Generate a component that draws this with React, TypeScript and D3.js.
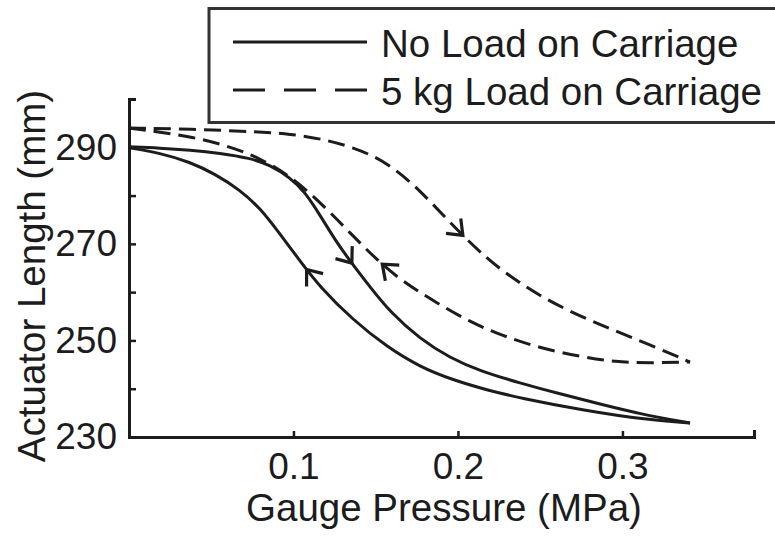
import React, { useEffect, useRef } from "react";
import * as d3 from "d3";

// Axis ticks
const xTickValues = [0.1, 0.2, 0.3];
const yTickValues = [230, 240, 250, 260, 270, 280, 290, 300];
const yTickLabels = [230, 250, 270, 290];

// No load on carriage – inflation (pressure rising)
const noLoadUpP = [0, 0.0188, 0.0371, 0.0553, 0.0736, 0.0857, 0.0979, 0.107, 0.1161, 0.1253, 0.1344, 0.1466, 0.1587, 0.1769, 0.1952, 0.2134, 0.2377, 0.2621, 0.2864, 0.3107, 0.3411];
const noLoadUpL = [290.1, 289.85, 289.43, 288.8, 287.77, 286.33, 283.74, 280.74, 275.97, 270.8, 266.45, 261.06, 255.89, 250.3, 246.36, 243.67, 241.18, 238.91, 236.83, 234.76, 232.9];

// No load on carriage – deflation (pressure falling)
const noLoadDownP = [0, 0.0188, 0.0371, 0.0523, 0.0675, 0.0797, 0.0918, 0.104, 0.1161, 0.1362, 0.1569, 0.1769, 0.197, 0.2177, 0.2377, 0.2754, 0.3156, 0.3411];
const noLoadDownL = [289.9, 288.82, 286.95, 284.47, 281.15, 277.42, 272.04, 266.45, 261.06, 254.23, 248.64, 244.5, 241.8, 239.73, 238.08, 235.59, 233.52, 232.9];

// 5 kg load – inflation
const loadUpP = [0, 0.0371, 0.0797, 0.0979, 0.1161, 0.1362, 0.1569, 0.1769, 0.197, 0.2177, 0.2347, 0.2541, 0.2754, 0.2943, 0.3156, 0.3411];
const loadUpL = [294.0, 293.79, 293.17, 292.76, 291.82, 290.06, 286.95, 281.15, 273.7, 266.86, 262.51, 258.37, 254.85, 252.16, 249.26, 245.53];

// 5 kg load – deflation
const loadDownP = [0, 0.0188, 0.0383, 0.0584, 0.0784, 0.0991, 0.1192, 0.1362, 0.1508, 0.1666, 0.1873, 0.2073, 0.2274, 0.2499, 0.2754, 0.2955, 0.3168, 0.3411];
const loadDownL = [294.0, 293.17, 292.13, 290.47, 287.99, 283.85, 277.63, 271.63, 266.66, 262.1, 257.75, 253.82, 250.92, 248.43, 246.57, 245.53, 245.33, 245.53];

// Arrow positions (pressure) and direction of travel
const arrowPressures = [0.1355, 0.108, 0.203, 0.154];
const arrowDirections = [1, -1, 1, -1];

const legendLabels = ["No Load on Carriage", "5 kg Load on Carriage"];

const INK = "#1c1c1c";
const FONT = "'Liberation Sans', Arial, Helvetica, sans-serif";

export default function App() {
  const ref = useRef<SVGSVGElement | null>(null);

  useEffect(() => {
    const svg = d3.select(ref.current);
    svg.selectAll("*").remove();

    const x = d3.scaleLinear().domain([0, 0.38]).range([129, 754]);
    const y = d3.scaleLinear().domain([230, 300]).range([437, 99]);

    // Axes
    const yAxis = d3
      .axisLeft(y)
      .tickValues(yTickValues)
      .tickSizeInner(-7)
      .tickSizeOuter(-7)
      .tickPadding(12)
      .tickFormat((d: any) => (yTickLabels.includes(+d) ? String(d) : ""));
    const gy = svg.append("g").attr("transform", `translate(${x(0)},0)`).call(yAxis as any);

    const xAxis = d3
      .axisBottom(x)
      .tickValues(xTickValues)
      .tickSizeInner(-6)
      .tickSizeOuter(-7)
      .tickPadding(16)
      .tickFormat((d: any) => d3.format(".1f")(d));
    const gx = svg.append("g").attr("transform", `translate(0,${y(230)})`).call(xAxis as any);

    [gy, gx].forEach((g) => {
      g.select(".domain").attr("stroke", INK).attr("stroke-width", 3);
      g.selectAll(".tick line").attr("stroke", INK).attr("stroke-width", 2.5);
      g.selectAll(".tick text")
        .attr("fill", INK)
        .style("font-family", FONT)
        .style("font-size", "37px");
    });

    // Axis titles
    svg
      .append("text")
      .attr("x", 444)
      .attr("y", 521)
      .attr("text-anchor", "middle")
      .attr("fill", INK)
      .style("font-family", FONT)
      .style("font-size", "38.5px")
      .text("Gauge Pressure (MPa)");

    svg
      .append("text")
      .attr("transform", "translate(45,276) rotate(-90)")
      .attr("text-anchor", "middle")
      .attr("fill", INK)
      .style("font-family", FONT)
      .style("font-size", "38.5px")
      .text("Actuator Length (mm)");

    // Curves
    const series = [
      { p: noLoadUpP, l: noLoadUpL, dash: null },
      { p: noLoadDownP, l: noLoadDownL, dash: null },
      { p: loadUpP, l: loadUpL, dash: "17,8" },
      { p: loadDownP, l: loadDownL, dash: "17,8" },
    ];

    const line = d3
      .line<[number, number]>()
      .x((d) => x(d[0]))
      .y((d) => y(d[1]))
      .curve(d3.curveBasis);

    series.forEach((s, i) => {
      const pts = s.p.map((p, k) => [p, s.l[k]] as [number, number]);
      const path = svg
        .append("path")
        .attr("d", line(pts) as string)
        .attr("fill", "none")
        .attr("stroke", INK)
        .attr("stroke-width", 3)
        .attr("stroke-dasharray", s.dash);

      // arrow head
      const node = path.node() as SVGPathElement;
      const total = node.getTotalLength();
      const tx = x(arrowPressures[i]);
      let lo = 0,
        hi = total;
      for (let it = 0; it < 40; it++) {
        const mid = (lo + hi) / 2;
        if (node.getPointAtLength(mid).x < tx) lo = mid;
        else hi = mid;
      }
      const len = (lo + hi) / 2;
      const tip = node.getPointAtLength(len);
      const a = node.getPointAtLength(Math.max(0, len - 3));
      const b = node.getPointAtLength(Math.min(total, len + 3));
      let dx = (b.x - a.x) * arrowDirections[i];
      let dy = (b.y - a.y) * arrowDirections[i];
      const n = Math.hypot(dx, dy) || 1;
      dx /= n;
      dy /= n;
      const L = 17;
      const th = (38 * Math.PI) / 180;
      const arm = (sgn: number) => {
        const c = Math.cos(sgn * th),
          sn = Math.sin(sgn * th);
        const rx = dx * c - dy * sn;
        const ry = dx * sn + dy * c;
        return [tip.x - L * rx, tip.y - L * ry];
      };
      const p1 = arm(1),
        p2 = arm(-1);
      svg
        .append("path")
        .attr("d", `M${p1[0]},${p1[1]}L${tip.x},${tip.y}L${p2[0]},${p2[1]}`)
        .attr("fill", "none")
        .attr("stroke", INK)
        .attr("stroke-width", 3.2)
        .attr("stroke-linejoin", "miter");
    });

    // Legend
    const lg = svg.append("g");
    lg.append("rect")
      .attr("x", 209)
      .attr("y", 8.5)
      .attr("width", 620)
      .attr("height", 114)
      .attr("fill", "white")
      .attr("stroke", "#333")
      .attr("stroke-width", 3);
    const legendDash = [null, "32,19"];
    const legendY = [42, 90];
    legendLabels.forEach((lab, i) => {
      lg.append("line")
        .attr("x1", 233)
        .attr("x2", 367)
        .attr("y1", legendY[i])
        .attr("y2", legendY[i])
        .attr("stroke", INK)
        .attr("stroke-width", 3)
        .attr("stroke-dasharray", legendDash[i]);
      lg.append("text")
        .attr("x", 381)
        .attr("y", legendY[i] + 15)
        .attr("fill", INK)
        .style("font-family", FONT)
        .style("font-size", "38.5px")
        .text(lab);
    });
  }, []);

  return (
    <svg
      ref={ref}
      width={775}
      height={538}
      style={{ position: "absolute", left: 0, top: 0, background: "white" }}
    />
  );
}
